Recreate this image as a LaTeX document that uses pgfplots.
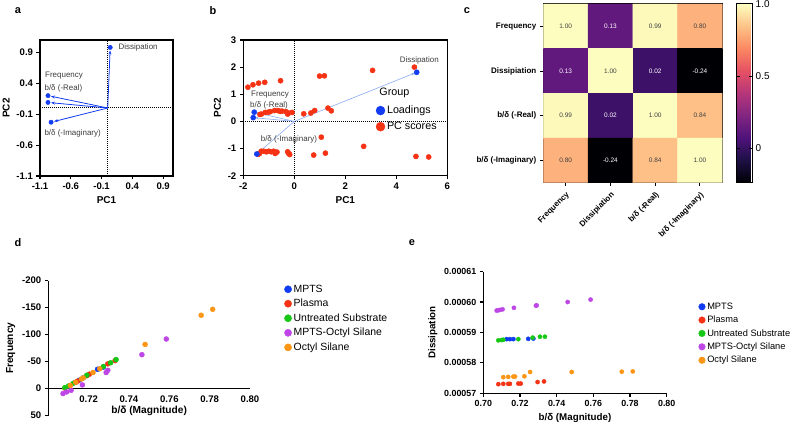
\documentclass[border=0pt]{standalone}
\usepackage{fontspec}
\setmainfont{Liberation Sans}
\usepackage{pgfplots}
\pgfplotsset{compat=1.18}
\usetikzlibrary{arrows.meta}

\definecolor{gpblue}{RGB}{18,60,242}
\definecolor{gpred}{RGB}{245,50,20}
\definecolor{gpgreen}{RGB}{22,200,22}
\definecolor{gppurple}{RGB}{190,70,230}
\definecolor{gporange}{RGB}{250,150,20}
\definecolor{arrowblue}{RGB}{140,170,245}
\definecolor{lbl}{RGB}{60,60,60}

\pgfplotsset{
  gp/.style={scale only axis, anchor=south west,
    /pgf/number format/assume math mode=true,
    tick align=outside, axis line style={line width=1.1bp},
    every tick/.style={line width=1.1bp, black}, major tick length=3.5bp,
    tick label style={font=\bfseries\fontsize{9.6}{11}\selectfont},
    label style={font=\bfseries\fontsize{10}{12}\selectfont},
    xtick pos=left, ytick pos=left, clip=false},
}
\tikzset{lab/.style={font=\fontsize{8}{9}\selectfont, text=lbl}}

\begin{document}
\begin{tikzpicture}
\useasboundingbox (0,0) rectangle (798bp,426bp);
\tikzset{letter/.style={font=\bfseries\fontsize{11}{12}\selectfont}}
\node[letter] at (18bp,415bp) {a};
\node[letter] at (213bp,415bp) {b};
\node[letter] at (467bp,415bp) {c};
\node[letter] at (18bp,183bp) {d};
\node[letter] at (412bp,183bp) {e};

% ---- a: loadings
\begin{axis}[gp, at={(40bp,250bp)}, width=133bp, height=136bp,
  xmin=-1.1, xmax=1.06, ymin=-1.1, ymax=1.1,
  xtick={-1.1,-0.6,-0.1,0.4,0.9}, ytick={-1.1,-0.6,-0.1,0.4,0.9},
  xticklabels={-1.1,-0.6,-0.1,0.4,0.9}, yticklabels={-1.1,-0.6,-0.1,0.4,0.9},
  xlabel={PC1}, ylabel={PC2}]
\addplot[densely dotted, line width=1bp] coordinates {(0,-1.1) (0,1.1)};
\addplot[densely dotted, line width=1bp] coordinates {(-1.1,0) (1.06,0)};
\addplot[gpblue, line width=0.8bp, -{Stealth[length=4bp]}, shorten >=3bp] coordinates {(0,0) (0.04,0.98)};
\addplot[gpblue, line width=0.8bp, -{Stealth[length=4bp]}, shorten >=3bp] coordinates {(0,0) (-0.97,0.20)};
\addplot[gpblue, line width=0.8bp, -{Stealth[length=4bp]}, shorten >=3bp] coordinates {(0,0) (-0.97,0.09)};
\addplot[gpblue, line width=0.8bp, -{Stealth[length=4bp]}, shorten >=3bp] coordinates {(0,0) (-0.92,-0.23)};
\addplot[only marks, mark=*, mark size=2.2bp, gpblue] coordinates {(0.04,0.98) (-0.97,0.20) (-0.97,0.09) (-0.92,-0.23)};
\node[lab, anchor=west] at (axis cs:0.12,0.975) {Dissipation};
\node[lab] at (axis cs:-0.71,0.52) {Frequency};
\node[lab] at (axis cs:-0.72,0.32) {b/δ (-Real)};
\node[lab] at (axis cs:-0.57,-0.41) {b/δ (-Imaginary)};
\end{axis}

% ---- b: biplot
\begin{axis}[gp, at={(243.3bp,250.3bp)}, width=204bp, height=135.7bp,
  xmin=-2, xmax=6, ymin=-2, ymax=3,
  xtick={-2,0,2,4,6}, ytick={-2,-1,0,1,2,3},
  xlabel={PC1}, ylabel={PC2},
  legend style={draw=none, fill=none, anchor=north west, at={(0.635,0.545)},
    font=\fontsize{10.8}{13}\selectfont, row sep=3bp},
  legend cell align=left,
  legend image post style={mark size=4.5bp}]
\addplot[densely dotted, line width=1bp, forget plot] coordinates {(0,-2) (0,3)};
\addplot[densely dotted, line width=1bp, forget plot] coordinates {(-2,0) (6,0)};
\addplot[arrowblue, line width=0.6bp, -{Stealth[length=3.5bp]}, shorten >=2bp, forget plot] coordinates {(0,0) (4.80,1.81)};
\addplot[arrowblue, line width=0.6bp, -{Stealth[length=3.5bp]}, shorten >=2bp, forget plot] coordinates {(0,0) (-1.57,0.34)};
\addplot[arrowblue, line width=0.6bp, -{Stealth[length=3.5bp]}, shorten >=2bp, forget plot] coordinates {(0,0) (-1.61,0.14)};
\addplot[arrowblue, line width=0.6bp, -{Stealth[length=3.5bp]}, shorten >=2bp, forget plot] coordinates {(0,0) (-1.47,-1.20)};
\addplot[only marks, mark=*, mark size=2.6bp, gpred, forget plot] coordinates {
 (-1.82,1.26) (-1.62,1.35) (-1.40,1.41) (-1.16,1.44) (-0.54,1.50) (0.99,1.67) (1.18,1.68) (3.07,1.88) (4.71,2.00)
 (-1.35,0.26) (-1.29,0.27) (-1.14,0.33) (-1.02,0.34) (-0.94,0.36) (-0.77,0.40) (-0.64,0.40) (-0.55,0.37)
 (-0.48,0.38) (-0.33,0.36) (-0.26,0.27) (-0.22,0.31) (-0.09,0.33) (0.37,0.28) (0.65,0.31) (0.80,0.40) (1.32,0.49) (1.45,0.39)
 (1.06,-0.58) (2.72,-0.92) (-1.42,-1.21) (-1.37,-1.19) (-1.30,-1.10) (-1.20,-1.10) (-1.10,-1.12) (-1.00,-1.10)
 (-0.90,-1.12) (-0.81,-1.10) (-0.75,-1.18) (-0.68,-1.13) (-0.26,-1.12) (-0.22,-1.18) (-0.18,-1.22) (0.76,-1.24)
 (1.22,-1.17) (4.77,-1.29) (5.27,-1.31)};
\addplot[only marks, mark=*, mark size=2.6bp, gpblue] coordinates {(4.80,1.81) (-1.57,0.34) (-1.61,0.14) (-1.47,-1.20)};
\addlegendentry{Loadings}
\addlegendimage{only marks, mark=*, gpred}
\addlegendentry{PC scores}
\node[anchor=west, font=\fontsize{10.8}{13}\selectfont] at (axis cs:3.2,1.05) {Group};
\node[lab] at (axis cs:4.90,2.24) {Dissipation};
\node[lab] at (axis cs:-0.95,1.00) {Frequency};
\node[lab] at (axis cs:-0.99,0.59) {b/δ (-Real)};
\node[lab] at (axis cs:-0.21,-0.68) {b/δ (-Imaginary)};
\end{axis}

% ---- c: correlation heatmap
\begin{axis}[scale only axis, anchor=south west, at={(543.3bp,243.3bp)}, width=179bp, height=178.7bp,
  xmin=-0.5, xmax=3.5, ymin=-0.5, ymax=3.5, y dir=reverse,
  axis line style={line width=1.1bp}, tick align=outside,
  every tick/.style={line width=1bp, black}, major tick length=3.5bp,
  xtick={0,1,2,3}, ytick={0,1,2,3}, xtick pos=left, ytick pos=left,
  xticklabels={Frequency,Dissipiation,b/δ (-Real),b/δ (-Imaginary)},
  yticklabels={Frequency,Dissipiation,b/δ (-Real),b/δ (-Imaginary)},
  tick label style={font=\bfseries\fontsize{8}{9}\selectfont},
  xticklabel style={rotate=45, anchor=north east},
  colormap={magma}{rgb255=(0,0,4) rgb255=(28,16,68) rgb255=(79,18,123) rgb255=(129,37,129)
    rgb255=(181,54,122) rgb255=(229,80,100) rgb255=(251,135,97) rgb255=(254,194,135) rgb255=(252,253,191)},
  point meta min=-0.24, point meta max=1,
  colorbar, colorbar style={scale only axis, at={(1.08,1)}, anchor=north west,
    width=15.6bp, height=178.7bp, ytick={0,0.5,1}, yticklabels={0,0.5,1.0},
    axis line style={line width=1bp}, major tick length=3bp,
    yticklabel style={font=\fontsize{10}{11}\selectfont}}]
\addplot[matrix plot*, mesh/cols=4, point meta=explicit] table[meta=c] {
x y c
0 0 1.00
1 0 0.13
2 0 0.99
3 0 0.80
0 1 0.13
1 1 1.00
2 1 0.02
3 1 -0.24
0 2 0.99
1 2 0.02
2 2 1.00
3 2 0.84
0 3 0.80
1 3 -0.24
2 3 0.84
3 3 1.00
};
\addplot[only marks, mark=none, nodes near coords, point meta=explicit symbolic,
  every node near coord/.append style={anchor=center, font=\fontsize{6.5}{7}\selectfont, text=black!75}]
  table[meta=t] {
x y t
0 0 1.00
2 0 0.99
3 0 0.80
1 1 1.00
0 2 0.99
2 2 1.00
3 2 0.84
0 3 0.80
2 3 0.84
3 3 1.00
};
\addplot[only marks, mark=none, nodes near coords, point meta=explicit symbolic,
  every node near coord/.append style={anchor=center, font=\fontsize{6.5}{7}\selectfont, text=white}]
  table[meta=t] {
x y t
1 0 0.13
0 1 0.13
2 1 0.02
3 1 -0.24
1 2 0.02
1 3 -0.24
};
\end{axis}

% ---- d: frequency vs magnitude
\begin{axis}[gp, at={(48.3bp,10.3bp)}, width=201.7bp, height=135bp,
  xmin=0.70, xmax=0.80, ymin=-200, ymax=50, y dir=reverse,
  axis x line*=middle, axis y line*=left,
  hide obscured x ticks=false, hide obscured y ticks=false,
  xtick={0.72,0.74,0.76,0.78,0.80}, xticklabels={0.72,0.74,0.76,0.78,0.80},
  ytick={-200,-150,-100,-50,0,50},
  label style={font=\bfseries\fontsize{10.2}{12}\selectfont},
  ylabel={Frequency}, xlabel={b/δ (Magnitude)},
  xlabel style={at={(axis cs:0.75,0)}, anchor=north, yshift=-14bp},
  legend style={draw=none, fill=none, anchor=north west, at={(1.155,1.0)},
    font=\fontsize{10.5}{12}\selectfont, row sep=1.5bp},
  legend cell align=left,
  legend image post style={mark size=3.6bp}]
\addplot[only marks, mark=*, mark size=2.5bp, gpblue] coordinates {
 (0.7136,-12) (0.7155,-16) (0.7173,-20) (0.7244,-36) (0.7273,-40)};
\addlegendentry{MPTS}
\addplot[only marks, mark=*, mark size=2.5bp, gpred] coordinates {
 (0.7082,-1) (0.7109,-6) (0.7136,-12) (0.7145,-14) (0.7191,-24) (0.7204,-27) (0.7295,-46) (0.7331,-52)};
\addlegendentry{Plasma}
\addplot[only marks, mark=*, mark size=2.5bp, gpgreen] coordinates {
 (0.7082,-2) (0.7100,-5) (0.7124,-10) (0.7191,-25) (0.7273,-41) (0.7309,-48) (0.7336,-54)};
\addlegendentry{Untreated Substrate}
\addplot[only marks, mark=*, mark size=2.5bp, gppurple] coordinates {
 (0.7073,9) (0.7091,6) (0.7113,3) (0.7169,-7) (0.7287,-30) (0.7295,-34) (0.7464,-63) (0.7585,-92)};
\addlegendentry{MPTS-Octyl Silane}
\addplot[only marks, mark=*, mark size=2.5bp, gporange] coordinates {
 (0.7109,-6) (0.7136,-12) (0.7164,-18) (0.7173,-20) (0.7222,-30) (0.7255,-37) (0.7480,-82) (0.7758,-136) (0.7815,-147)};
\addlegendentry{Octyl Silane}
\end{axis}

% ---- e: dissipation vs magnitude
\begin{axis}[gp, at={(483.3bp,32.7bp)}, width=183.4bp, height=121.7bp,
  xmin=0.70, xmax=0.80, ymin=0.00057, ymax=0.00061,
  axis lines*=left, scaled y ticks=false, scaled x ticks=false,
  xtick={0.70,0.72,0.74,0.76,0.78,0.80}, xticklabels={0.70,0.72,0.74,0.76,0.78,0.80},
  ytick={0.00057,0.00058,0.00059,0.00060,0.00061},
  yticklabels={0.00057,0.00058,0.00059,0.00060,0.00061},
  tick label style={font=\bfseries\fontsize{8.9}{10}\selectfont},
  label style={font=\bfseries\fontsize{9.8}{11}\selectfont},
  ylabel={Dissipation}, xlabel={b/δ (Magnitude)},
  legend style={draw=none, fill=none, anchor=north west, at={(1.157,1.0)}, yshift=-27bp,
    font=\fontsize{9.3}{11}\selectfont, row sep=1.2bp},
  legend cell align=left,
  legend image post style={mark size=3.3bp}]
\addplot[only marks, mark=*, mark size=2.1bp, gpblue] coordinates {
 (0.7127,0.0005878) (0.7145,0.0005878) (0.7164,0.0005878) (0.7245,0.0005879) (0.7273,0.0005880)};
\addlegendentry{MPTS}
\addplot[only marks, mark=*, mark size=2.1bp, gpred] coordinates {
 (0.7082,0.0005730) (0.7109,0.0005731) (0.7136,0.0005731) (0.7145,0.0005731) (0.7191,0.0005732)
 (0.7204,0.0005732) (0.7296,0.0005737) (0.7331,0.0005739)};
\addlegendentry{Plasma}
\addplot[only marks, mark=*, mark size=2.1bp, gpgreen] coordinates {
 (0.7082,0.0005874) (0.7100,0.0005875) (0.7109,0.0005876) (0.7191,0.0005878) (0.7269,0.0005883)
 (0.7309,0.0005886) (0.7336,0.0005886)};
\addlegendentry{Untreated Substrate}
\addplot[only marks, mark=*, mark size=2.1bp, gppurple] coordinates {
 (0.7073,0.0005972) (0.7082,0.0005973) (0.7091,0.0005974) (0.7105,0.0005976) (0.7167,0.0005981)
 (0.7287,0.0005988) (0.7291,0.0005989) (0.7460,0.0006000) (0.7585,0.0006008)};
\addlegendentry{MPTS-Octyl Silane}
\addplot[only marks, mark=*, mark size=2.1bp, gporange] coordinates {
 (0.7109,0.0005753) (0.7136,0.0005754) (0.7164,0.0005755) (0.7173,0.0005755) (0.7224,0.0005756)
 (0.7255,0.0005770) (0.7482,0.0005770) (0.7755,0.0005771) (0.7815,0.0005772)};
\addlegendentry{Octyl Silane}
\end{axis}
\end{tikzpicture}
\end{document}
